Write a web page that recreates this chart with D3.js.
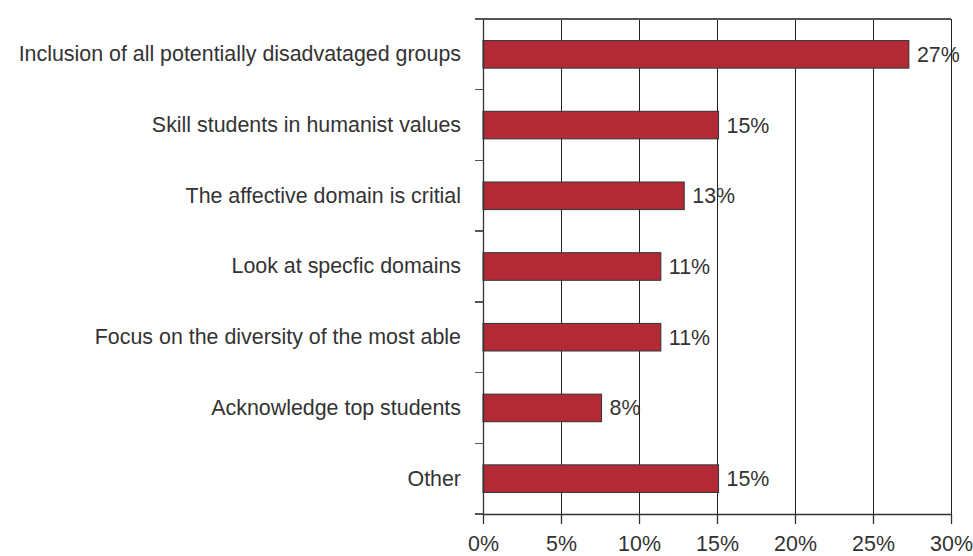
<!DOCTYPE html>
<html><head><meta charset="utf-8">
<script src="https://cdn.jsdelivr.net/npm/d3@7"></script>
<style>body{margin:0;background:#fff}svg{display:block}</style>
</head><body><div id="chart"></div>
<script>
const categories = ["Inclusion of all potentially disadvataged groups","Skill students in humanist values","The affective domain is critial","Look at specfic domains","Focus on the diversity of the most able","Acknowledge top students","Other"];
const values = [27.3, 15.1, 12.9, 11.4, 11.4, 7.6, 15.1];
const valueLabels = ["27%","15%","13%","11%","11%","8%","15%"];
const xTicks = [0,5,10,15,20,25,30];

const W=973,H=556;
const m={left:483,right:22,top:19,bottom:42};
const FS=21.4;
const svg=d3.select("#chart").append("svg").attr("width",W).attr("height",H);
const x=d3.scaleLinear().domain([0,30]).range([m.left,W-m.right]);
const y=d3.scaleBand().domain(categories).range([m.top,H-m.bottom]).paddingInner(0.61).paddingOuter(0.305);
const yb=d3.scaleBand().domain(categories).range([m.top,H-m.bottom]);
const font="'Liberation Sans', Arial, Helvetica, sans-serif";

// grid
svg.append("g").selectAll("line").data(xTicks.slice(1)).join("line")
  .attr("x1",d=>x(d)).attr("x2",d=>x(d)).attr("y1",m.top).attr("y2",H-m.bottom)
  .attr("stroke","#222").attr("stroke-width",1).attr("shape-rendering","crispEdges");
// top border
svg.append("line").attr("x1",m.left-8).attr("x2",x(30)).attr("y1",m.top).attr("y2",m.top)
  .attr("stroke","#555").attr("stroke-width",1.3).attr("shape-rendering","crispEdges");

// bars
svg.append("g").selectAll("rect").data(categories).join("rect")
  .attr("x",x(0)).attr("y",d=>y(d)).attr("height",y.bandwidth())
  .attr("width",(d,i)=>x(values[i])-x(0))
  .attr("fill","#b22a35").attr("stroke","#333").attr("stroke-width",1);

// value labels
svg.append("g").selectAll("text").data(categories).join("text")
  .attr("x",(d,i)=>x(values[i])+8).attr("y",d=>y(d)+y.bandwidth()/2)
  .attr("dy","0.35em").attr("font-family",font).attr("font-size",FS).attr("fill","#333")
  .text((d,i)=>valueLabels[i]);

// y axis
const yAxis=d3.axisLeft(yb).tickSize(0).tickPadding(22);
const gy=svg.append("g").attr("transform",`translate(${m.left},0)`).call(yAxis);
gy.select(".domain").attr("stroke","#333").attr("stroke-width",1.3);
gy.selectAll("text").attr("font-family",font).attr("font-size",FS).attr("fill","#333");
// y ticks at band boundaries
const bounds=categories.map(c=>yb(c)).concat([H-m.bottom]);
svg.append("g").selectAll("line").data(bounds).join("line")
  .attr("x1",m.left-8).attr("x2",m.left).attr("y1",d=>d).attr("y2",d=>d)
  .attr("stroke","#555").attr("stroke-width",1.3).attr("shape-rendering","crispEdges");

// x axis
const xAxis=d3.axisBottom(x).tickValues(xTicks).tickFormat(d=>d+"%").tickSize(10).tickSizeOuter(0).tickPadding(12);
const gx=svg.append("g").attr("transform",`translate(0,${H-m.bottom})`).call(xAxis);
gx.select(".domain").attr("stroke","#333").attr("stroke-width",1.3);
gx.selectAll(".tick line").attr("stroke","#333").attr("stroke-width",1.3);
gx.selectAll("text").attr("font-family",font).attr("font-size",FS).attr("fill","#333");
</script></body></html>
